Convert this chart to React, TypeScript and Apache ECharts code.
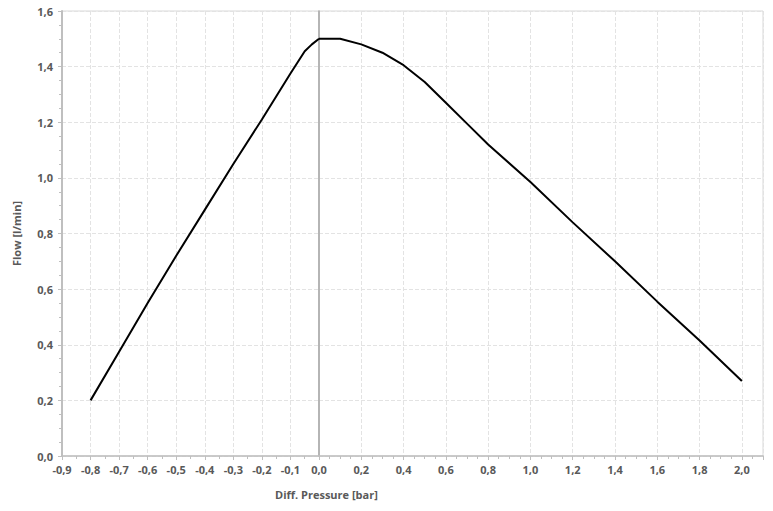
import React, { useEffect, useRef } from "react";
import * as echarts from "echarts";

const negPressure = [-0.8, -0.7, -0.6, -0.5, -0.4, -0.3, -0.2, -0.1, -0.05, -0.025, 0];
const negFlow = [0.2, 0.375, 0.55, 0.72, 0.885, 1.05, 1.21, 1.375, 1.455, 1.48, 1.5];
const posPressure = [0, 0.1, 0.2, 0.3, 0.4, 0.5, 0.6, 0.7, 0.8, 1.0, 1.2, 1.4, 1.6, 1.8, 2.0];
const posFlow = [1.5, 1.5, 1.48, 1.45, 1.405, 1.345, 1.27, 1.195, 1.12, 0.985, 0.84, 0.7, 0.555, 0.415, 0.27];

const xTitle = "Diff. Pressure [bar]";
const yTitle = "Flow [l/min]";

const fmt = (v: number) => (Math.abs(v) < 1e-9 ? 0 : v).toFixed(1).replace(".", ",");

const FONT = "'Open Sans', 'DejaVu Sans', sans-serif";
const LABEL_COLOR = "#595959";

export default function App() {
  const ref = useRef<HTMLDivElement>(null);
  useEffect(() => {
    if (!ref.current) return;
    const chart = echarts.init(ref.current, null, { renderer: "svg" });
    const labelStyle = {
      color: LABEL_COLOR,
      fontFamily: FONT,
      fontSize: 11,
      fontWeight: "bold" as const,
    };
    const splitDashed = {
      show: true,
      lineStyle: { color: "#e3e3e3", type: "dashed" as const, width: 1 },
    };
    chart.setOption({
      animation: false,
      grid: [
        { left: 62, top: 11, width: 257, bottom: 55, show: true, borderColor: "#d9d9d9", borderWidth: 1 },
        { left: 319, top: 11, right: 10, bottom: 55, show: true, borderColor: "#d9d9d9", borderWidth: 1 },
      ],
      xAxis: [
        {
          type: "value",
          gridIndex: 0,
          min: -0.9,
          max: 0,
          interval: 0.1,
          axisLine: { show: true, onZero: false, lineStyle: { color: "#bfbfbf", width: 1.5 } },
          axisTick: { show: true, length: 4, lineStyle: { color: "#bfbfbf" } },
          minorTick: { show: true, splitNumber: 2, length: 3, lineStyle: { color: "#bfbfbf" } },
          axisLabel: { ...labelStyle, margin: 8, formatter: (v: number) => fmt(v) },
          splitLine: splitDashed,
        },
        {
          type: "value",
          gridIndex: 1,
          min: 0,
          max: 2.1,
          interval: 0.2,
          axisLine: { show: true, onZero: false, lineStyle: { color: "#bfbfbf", width: 1.5 } },
          axisTick: { show: true, length: 4, lineStyle: { color: "#bfbfbf" } },
          minorTick: { show: true, splitNumber: 4, length: 3, lineStyle: { color: "#bfbfbf" } },
          axisLabel: {
            ...labelStyle,
            margin: 8,
            showMinLabel: false,
            showMaxLabel: false,
            formatter: (v: number) => (Math.abs(v) < 1e-9 ? "" : fmt(v)),
          },
          splitLine: splitDashed,
        },
      ],
      yAxis: [
        {
          type: "value",
          gridIndex: 0,
          min: 0,
          max: 1.6,
          interval: 0.2,
          name: yTitle,
          nameLocation: "middle",
          nameGap: 40,
          nameTextStyle: { color: LABEL_COLOR, fontFamily: FONT, fontSize: 11, fontWeight: "bold" },
          axisLine: { show: true, onZero: false, lineStyle: { color: "#bfbfbf", width: 2 } },
          axisTick: { show: true, length: 4, lineStyle: { color: "#bfbfbf" } },
          minorTick: { show: true, splitNumber: 4, length: 3, lineStyle: { color: "#bfbfbf" } },
          axisLabel: { ...labelStyle, margin: 9, formatter: (v: number) => fmt(v) },
          splitLine: splitDashed,
        },
        {
          type: "value",
          gridIndex: 1,
          min: 0,
          max: 1.6,
          interval: 0.2,
          axisLine: { show: true, onZero: false, lineStyle: { color: "#a6a6a6", width: 1.5 } },
          axisTick: { show: false },
          axisLabel: { show: false },
          splitLine: splitDashed,
        },
      ],
      graphic: [
        {
          type: "text",
          left: 275,
          top: 489,
          style: {
            text: xTitle,
            fill: LABEL_COLOR,
            font: `bold 11px ${FONT}`,
          },
        },
      ],
      series: [
        {
          type: "line",
          xAxisIndex: 0,
          yAxisIndex: 0,
          data: negPressure.map((x, i) => [x, negFlow[i]]),
          showSymbol: false,
          symbol: "none",
          lineStyle: { color: "#000000", width: 2 },
          z: 5,
        },
        {
          type: "line",
          xAxisIndex: 1,
          yAxisIndex: 1,
          data: posPressure.map((x, i) => [x, posFlow[i]]),
          showSymbol: false,
          symbol: "none",
          lineStyle: { color: "#000000", width: 2 },
          z: 5,
        },
      ],
    });
    return () => chart.dispose();
  }, []);
  return (
    <div
      ref={ref}
      style={{ position: "absolute", left: 0, top: 0, width: 773, height: 511, background: "#ffffff" }}
    />
  );
}
